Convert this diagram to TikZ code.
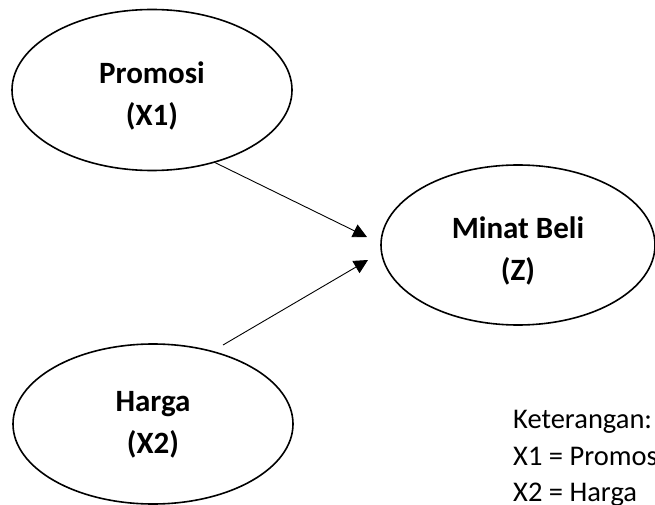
\documentclass[tikz,border=0pt]{standalone}
\usepackage{fontspec}
\setmainfont{Carlito}
\usetikzlibrary{shapes.geometric,arrows.meta}

\tikzset{
  var/.style={draw,ellipse,line width=1.6pt,inner sep=0pt},
  vtext/.style={align=center,inner sep=0pt,yshift=-6pt,
    font=\bfseries\fontsize{31}{42}\selectfont},
  link/.style={line width=0.9pt,-{Triangle[length=14pt,width=14pt]}},
  note/.style={anchor=base west,inner sep=0pt,font=\fontsize{28.5}{36}\selectfont}
}

\begin{document}
\begin{tikzpicture}[x=1pt,y=-1pt]
  \useasboundingbox (0,0) rectangle (655,505);
  % variables
  \node[var,minimum width=280pt,minimum height=161pt,
    label={[vtext]center:Promosi\\(X1)}] (promosi) at (152,90) {};
  \node[var,minimum width=274pt,minimum height=160pt,
    label={[vtext]center:Minat Beli\\(Z)}] (minat) at (518,245) {};
  \node[var,minimum width=280pt,minimum height=160pt,
    label={[vtext,yshift=5pt]center:Harga\\(X2)}] (harga) at (153,424) {};
  % arrow ends
  \coordinate (s2) at (223,345);
  \coordinate (t1) at (367,237);
  \coordinate (t2) at (368,260);
  \draw[link] (promosi.-49) -- (t1);
  \draw[link] (s2) -- (t2);
  % legend
  \node[note] (k0) at (513,428) {Keterangan:};
  \node[note] (k1) at (513,465) {X1 = Promosi};
  \node[note] (k2) at (513,501) {X2 = Harga};
\end{tikzpicture}
\end{document}
